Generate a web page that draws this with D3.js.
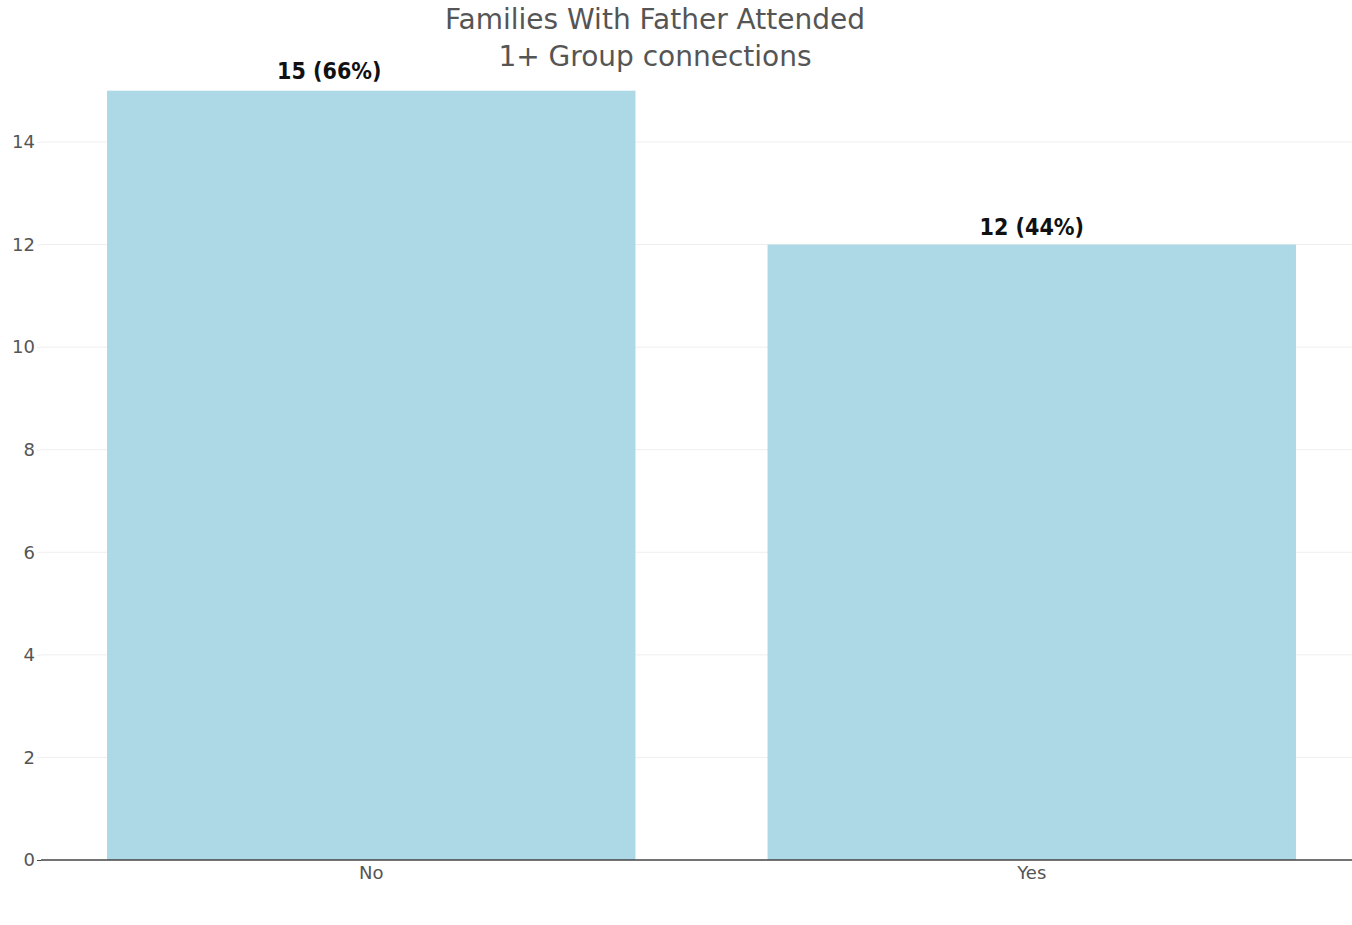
<!DOCTYPE html>
<html><head><meta charset="utf-8">
<script src="https://cdn.jsdelivr.net/npm/d3@7"></script>
<style>body{margin:0;background:#fff;}svg{display:block;font-family:"DejaVu Sans",sans-serif;}</style>
</head><body><svg id="c" width="1352" height="925"></svg>
<script>
const categories = ["No", "Yes"];
const counts = [15, 12];
const labels = ["15 (66%)", "12 (44%)"];
const yTicks = [0, 2, 4, 6, 8, 10, 12, 14];
const titleLines = ["Families With Father Attended", "1+ Group connections"];

const svg = d3.select("#c");
const m = {l: 41, r: -10};
const W = 1352;
const x = d3.scaleBand().domain(categories).range([m.l, W - m.r]).paddingInner(0.2).paddingOuter(0.1);
const y = d3.scaleLinear().domain([0, 15]).range([860, 90.7]);

// gridlines
svg.append("g").selectAll("line").data(yTicks.filter(d => d > 0)).join("line")
  .attr("x1", m.l).attr("x2", W).attr("y1", d => y(d)).attr("y2", d => y(d))
  .attr("stroke", "#eeeeee").attr("stroke-width", 1);

// bars
svg.append("g").selectAll("rect").data(categories).join("rect")
  .attr("x", d => x(d)).attr("width", x.bandwidth())
  .attr("y", (d, i) => y(counts[i])).attr("height", (d, i) => y(0) - y(counts[i]))
  .attr("fill", "#add8e6");

// y axis
const ya = svg.append("g").attr("transform", `translate(${m.l},0)`)
  .call(d3.axisLeft(y).tickValues(yTicks).tickSize(4).tickPadding(2));
ya.select(".domain").remove();
ya.selectAll(".tick line").attr("stroke", "#eee");
ya.selectAll(".tick text").attr("fill", "#555").style("font-size", "18px").style("font-family", "DejaVu Sans, sans-serif");
ya.selectAll(".tick").filter(d => d === 0).select("line").attr("stroke", "#444");

// zero line
svg.append("line").attr("x1", m.l).attr("x2", W).attr("y1", y(0)).attr("y2", y(0))
  .attr("stroke", "#444").attr("stroke-width", 1.5);

// x axis labels
const xa = svg.append("g").attr("transform", `translate(0,${y(0)})`)
  .call(d3.axisBottom(x).tickSize(0).tickPadding(6));
xa.select(".domain").remove();
xa.selectAll(".tick text").attr("fill", "#555").style("font-size", "18px").style("font-family", "DejaVu Sans, sans-serif");

// value labels (first one nudged left, clear of the title, as in the original)
svg.append("g").selectAll("text").data(categories).join("text")
  .attr("x", (d, i) => x(d) + x.bandwidth() / 2 - (i === 0 ? 42 : 0))
  .attr("y", (d, i) => y(counts[i]) - (i === 0 ? 12 : 10))
  .attr("text-anchor", "middle")
  .attr("fill", "#111").style("font-size", "23px").style("font-weight", "bold")
  .style("font-family", "DejaVu Sans Condensed, sans-serif")
  .text((d, i) => labels[i]);

// title
svg.append("g").selectAll("text").data(titleLines).join("text")
  .attr("x", 655).attr("y", (d, i) => 29 + i * 37)
  .attr("text-anchor", "middle").attr("fill", "#555")
  .style("font-size", "28px").style("font-family", "DejaVu Sans, sans-serif")
  .text(d => d);
</script></body></html>
